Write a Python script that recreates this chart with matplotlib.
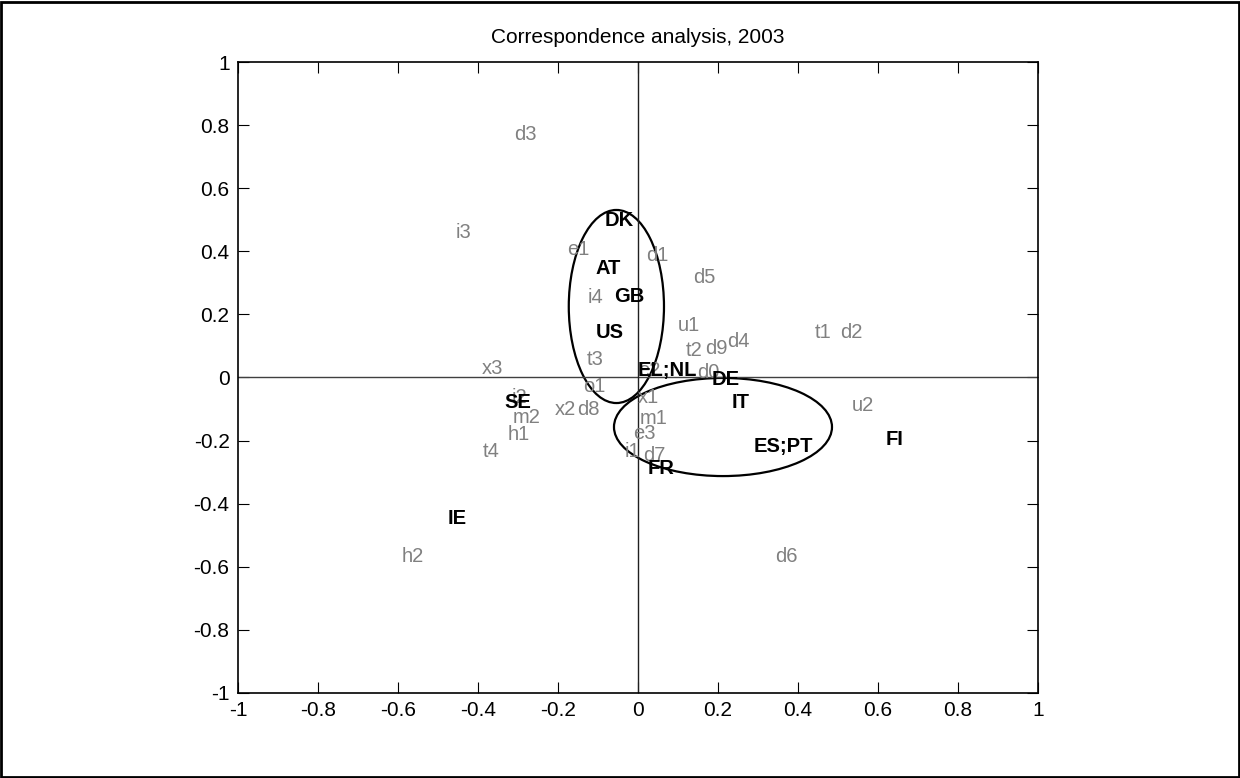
import matplotlib
matplotlib.use('Agg')
import matplotlib.pyplot as plt
from matplotlib.patches import Ellipse, Rectangle

plt.rcParams['font.family'] = ['Liberation Sans', 'DejaVu Sans']

# category points (grey)
cat_labels = ['d3', 'i3', 'e1', 'd1', 'd5', 'i4', 'u1', 't2', 'd9', 'd4',
              't1', 'd2', 'x3', 't3', 'e2', 'd0', 'o1', 'i2', 'x1', 'x2',
              'd8', 'm2', 'm1', 'h1', 'e3', 't4', 'i1', 'd7', 'u2', 'h2', 'd6']
cat_x = [-0.31, -0.455, -0.178, 0.02, 0.138, -0.125, 0.10, 0.12, 0.168, 0.223,
         0.443, 0.505, -0.39, -0.128, 0.0, 0.148, -0.138, -0.315, 0.0, -0.208,
         -0.153, -0.313, 0.005, -0.325, -0.013, -0.388, -0.033, 0.013, 0.535, -0.59, 0.343]
cat_y = [0.769, 0.458, 0.407, 0.388, 0.318, 0.252, 0.166, 0.084, 0.093, 0.113,
         0.144, 0.144, 0.030, 0.056, 0.021, 0.017, -0.030, -0.065, -0.065, -0.103,
         -0.103, -0.128, -0.131, -0.182, -0.176, -0.236, -0.236, -0.246, -0.090, -0.569, -0.569]

# country points (black, bold)
cty_labels = ['DK', 'AT', 'GB', 'US', 'EL;NL', 'DE', 'IT', 'ES;PT', 'FR', 'FI', 'SE', 'IE']
cty_x = [-0.083, -0.105, -0.06, -0.105, 0.0, 0.185, 0.233, 0.288, 0.025, 0.618, -0.335, -0.475]
cty_y = [0.499, 0.347, 0.258, 0.144, 0.021, -0.005, -0.078, -0.220, -0.29, -0.198, -0.078, -0.446]

# cluster ellipses: centre x, centre y, width, height
ell_cx = [-0.054, 0.2125]
ell_cy = [0.225, -0.157]
ell_w = [0.238, 0.545]
ell_h = [0.612, 0.311]

fig = plt.figure(figsize=(12.4, 7.78), dpi=100)
ax = fig.add_axes([0.1919, 0.1093, 0.6452, 0.811])

ax.plot([-1, 1], [0, 0], color='#404040', lw=1)
ax.plot([0, 0], [-1, 1], color='#202020', lw=1)

for lab, x, y in zip(cat_labels, cat_x, cat_y):
    ax.text(x, y, lab, color='#808080', fontsize=14.5, ha='left', va='center')
for lab, x, y in zip(cty_labels, cty_x, cty_y):
    ax.text(x, y, lab, color='black', fontsize=14.5, fontweight='bold', ha='left', va='center')

for cx, cy, w, h in zip(ell_cx, ell_cy, ell_w, ell_h):
    ax.add_patch(Ellipse((cx, cy), w, h, fill=False, edgecolor='black', lw=1.6))

ax.set_xlim(-1, 1)
ax.set_ylim(-1, 1)
ticks = [-1, -0.8, -0.6, -0.4, -0.2, 0, 0.2, 0.4, 0.6, 0.8, 1]
tick_labels = ['-1', '-0.8', '-0.6', '-0.4', '-0.2', '0', '0.2', '0.4', '0.6', '0.8', '1']
ax.set_xticks(ticks)
ax.set_xticklabels(tick_labels)
ax.set_yticks(ticks)
ax.set_yticklabels(tick_labels)
ax.tick_params(direction='in', length=8, width=0.8, labelsize=15,
               top=True, right=True, pad=6)
for s in ax.spines.values():
    s.set_linewidth(1.2)
ax.set_title('Correspondence analysis, 2003', fontsize=15, pad=14)

fig.patches.append(Rectangle((0.001, 0.001), 0.998, 0.997, transform=fig.transFigure,
                             fill=False, edgecolor='black', lw=2))

fig.savefig('out.png', dpi=100)
